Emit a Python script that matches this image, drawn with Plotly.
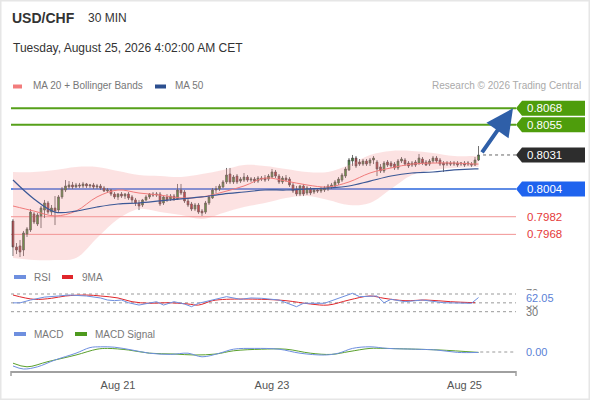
import plotly.graph_objects as go

# USD/CHF 30 min candles
OPEN = [0.79786, 0.79580, 0.79588, 0.79556, 0.79683, 0.79715, 0.79842, 0.79762, 0.79826, 0.79873,
        0.79929, 0.79857, 0.79889, 0.79873, 0.79977, 0.80032, 0.80056, 0.80072, 0.80056, 0.80072,
        0.80064, 0.80080, 0.80064, 0.80072, 0.80056, 0.80064, 0.80048, 0.80024, 0.80032, 0.80000,
        0.79977, 0.80000, 0.79984, 0.80000, 0.79977, 0.79953, 0.79929, 0.79913, 0.79953, 0.79977,
        0.80000, 0.79992, 0.80000, 0.79929, 0.79977, 0.79961, 0.79984, 0.79961, 0.80032, 0.80016,
        0.79945, 0.79921, 0.79881, 0.79913, 0.79865, 0.79857, 0.79929, 0.79969, 0.80032, 0.80040,
        0.80056, 0.80096, 0.80159, 0.80096, 0.80143, 0.80103, 0.80111, 0.80135, 0.80111, 0.80119,
        0.80103, 0.80127, 0.80127, 0.80119, 0.80135, 0.80175, 0.80143, 0.80096, 0.80127, 0.80119,
        0.80072, 0.80040, 0.80000, 0.80064, 0.80008, 0.80040, 0.80016, 0.80032, 0.80024, 0.80032,
        0.80040, 0.80056, 0.80064, 0.80088, 0.80111, 0.80143, 0.80191, 0.80262, 0.80286, 0.80254,
        0.80238, 0.80262, 0.80246, 0.80270, 0.80254, 0.80215, 0.80183, 0.80254, 0.80246, 0.80238,
        0.80207, 0.80262, 0.80270, 0.80246, 0.80230, 0.80254, 0.80246, 0.80278, 0.80254, 0.80238,
        0.80262, 0.80286, 0.80270, 0.80246, 0.80238, 0.80246, 0.80238, 0.80246, 0.80238, 0.80246,
        0.80238, 0.80238, 0.80230, 0.80270]
HIGH = [0.79802, 0.79611, 0.79635, 0.79707, 0.79738, 0.79881, 0.79857, 0.79850, 0.79905, 0.79953,
        0.79945, 0.79913, 0.79984, 0.79992, 0.80056, 0.80111, 0.80103, 0.80096, 0.80088, 0.80088,
        0.80096, 0.80088, 0.80080, 0.80088, 0.80080, 0.80080, 0.80064, 0.80048, 0.80040, 0.80016,
        0.80008, 0.80016, 0.80008, 0.80016, 0.79992, 0.79969, 0.79953, 0.79961, 0.79992, 0.80008,
        0.80016, 0.80016, 0.80016, 0.79984, 0.80000, 0.80000, 0.80000, 0.80080, 0.80080, 0.80032,
        0.79961, 0.79937, 0.79929, 0.79929, 0.79881, 0.79945, 0.79992, 0.80048, 0.80064, 0.80080,
        0.80111, 0.80207, 0.80207, 0.80151, 0.80159, 0.80135, 0.80167, 0.80151, 0.80135, 0.80135,
        0.80143, 0.80143, 0.80151, 0.80159, 0.80199, 0.80191, 0.80159, 0.80143, 0.80151, 0.80135,
        0.80088, 0.80064, 0.80072, 0.80080, 0.80064, 0.80056, 0.80048, 0.80048, 0.80056, 0.80064,
        0.80080, 0.80088, 0.80111, 0.80135, 0.80167, 0.80215, 0.80286, 0.80310, 0.80302, 0.80278,
        0.80278, 0.80278, 0.80286, 0.80302, 0.80270, 0.80238, 0.80262, 0.80270, 0.80262, 0.80254,
        0.80278, 0.80294, 0.80286, 0.80262, 0.80262, 0.80270, 0.80318, 0.80294, 0.80270, 0.80278,
        0.80302, 0.80302, 0.80286, 0.80262, 0.80262, 0.80262, 0.80262, 0.80262, 0.80254, 0.80262,
        0.80262, 0.80254, 0.80294, 0.80381]
LOW = [0.79508, 0.79524, 0.79500, 0.79508, 0.79659, 0.79699, 0.79762, 0.79746, 0.79730, 0.79810,
       0.79842, 0.79826, 0.79754, 0.79857, 0.79961, 0.80016, 0.80040, 0.80040, 0.80048, 0.80048,
       0.80048, 0.80048, 0.80048, 0.80040, 0.80040, 0.80032, 0.80016, 0.80008, 0.79984, 0.79961,
       0.79953, 0.79969, 0.79961, 0.79953, 0.79929, 0.79905, 0.79873, 0.79897, 0.79945, 0.79961,
       0.79977, 0.79977, 0.79905, 0.79913, 0.79937, 0.79945, 0.79945, 0.79953, 0.79992, 0.79929,
       0.79897, 0.79865, 0.79865, 0.79842, 0.79826, 0.79842, 0.79913, 0.79961, 0.80008, 0.80024,
       0.80048, 0.80080, 0.80080, 0.80080, 0.80080, 0.80088, 0.80096, 0.80096, 0.80096, 0.80088,
       0.80088, 0.80103, 0.80096, 0.80103, 0.80127, 0.80127, 0.80080, 0.80080, 0.80096, 0.80056,
       0.80008, 0.79984, 0.79984, 0.79984, 0.79992, 0.79992, 0.80000, 0.80008, 0.80008, 0.80016,
       0.80024, 0.80040, 0.80048, 0.80072, 0.80096, 0.80127, 0.80183, 0.80223, 0.80207, 0.80223,
       0.80223, 0.80223, 0.80223, 0.80238, 0.80143, 0.80167, 0.80167, 0.80215, 0.80207, 0.80191,
       0.80191, 0.80246, 0.80223, 0.80207, 0.80215, 0.80215, 0.80230, 0.80230, 0.80223, 0.80223,
       0.80246, 0.80246, 0.80223, 0.80175, 0.80223, 0.80223, 0.80223, 0.80215, 0.80223, 0.80215,
       0.80223, 0.80215, 0.80223, 0.80262]
CLOSE = [0.79580, 0.79556, 0.79540, 0.79691, 0.79723, 0.79857, 0.79778, 0.79834, 0.79889, 0.79929,
         0.79857, 0.79889, 0.79865, 0.79977, 0.80040, 0.80064, 0.80072, 0.80056, 0.80072, 0.80064,
         0.80080, 0.80064, 0.80072, 0.80056, 0.80064, 0.80048, 0.80024, 0.80032, 0.80000, 0.79977,
         0.80000, 0.79984, 0.80000, 0.79969, 0.79953, 0.79929, 0.79905, 0.79953, 0.79977, 0.80000,
         0.79992, 0.80000, 0.79921, 0.79977, 0.79953, 0.79984, 0.79961, 0.80032, 0.80008, 0.79945,
         0.79913, 0.79881, 0.79913, 0.79857, 0.79850, 0.79929, 0.79977, 0.80032, 0.80040, 0.80064,
         0.80096, 0.80151, 0.80096, 0.80135, 0.80096, 0.80119, 0.80135, 0.80111, 0.80119, 0.80103,
         0.80127, 0.80119, 0.80111, 0.80143, 0.80175, 0.80143, 0.80096, 0.80127, 0.80111, 0.80072,
         0.80024, 0.80000, 0.80064, 0.80000, 0.80048, 0.80008, 0.80032, 0.80024, 0.80040, 0.80048,
         0.80064, 0.80072, 0.80096, 0.80119, 0.80151, 0.80199, 0.80270, 0.80286, 0.80223, 0.80238,
         0.80262, 0.80238, 0.80270, 0.80286, 0.80199, 0.80183, 0.80246, 0.80230, 0.80223, 0.80207,
         0.80262, 0.80278, 0.80238, 0.80223, 0.80246, 0.80230, 0.80286, 0.80246, 0.80230, 0.80262,
         0.80286, 0.80262, 0.80238, 0.80230, 0.80246, 0.80238, 0.80246, 0.80230, 0.80246, 0.80230,
         0.80246, 0.80230, 0.80270, 0.80310]

# indicators, sampled at these candle numbers
IND_X = [0, 6, 12, 18, 24, 30, 36, 42, 48, 54, 60, 66, 72, 78, 84, 90, 96, 102, 108, 114, 120, 126, 132, 133]
MA20 = [0.79905, 0.79865, 0.79826, 0.79865, 0.79977, 0.80032, 0.80008, 0.79992, 0.79969, 0.79977, 0.80016, 0.80064,
        0.80127, 0.80103, 0.80072, 0.80056, 0.80096, 0.80167, 0.80207, 0.80238, 0.80246, 0.80246, 0.80238, 0.80238]
MA50 = [0.80111, 0.79961, 0.79857, 0.79865, 0.79897, 0.79921, 0.79929, 0.79945, 0.79961, 0.79977, 0.80000, 0.80016,
        0.80032, 0.80032, 0.80040, 0.80048, 0.80064, 0.80103, 0.80143, 0.80167, 0.80175, 0.80191, 0.80199, 0.80199]
BB_UP = [0.80175, 0.80175, 0.80191, 0.80215, 0.80215, 0.80183, 0.80151, 0.80143, 0.80135, 0.80159, 0.80191, 0.80230,
         0.80223, 0.80199, 0.80175, 0.80175, 0.80230, 0.80310, 0.80342, 0.80342, 0.80326, 0.80302, 0.80302, 0.80302]
BB_LOW = [0.79492, 0.79476, 0.79476, 0.79492, 0.79651, 0.79802, 0.79881, 0.79857, 0.79834, 0.79802, 0.79850, 0.79897,
          0.79929, 0.79969, 0.79984, 0.79953, 0.79913, 0.79929, 0.80040, 0.80151, 0.80191, 0.80207, 0.80215, 0.80215]

RSI_X = [0, 2, 5, 9, 13, 16, 21, 25, 27, 29, 31, 33, 36, 39, 41, 43, 46, 49, 51, 53, 57, 61, 65, 68, 71, 76,
         81, 83, 89, 93, 97, 99, 104, 106, 108, 112, 117, 123, 131, 133]
RSI = [50, 50, 56.4, 63, 65.5, 67.7, 65.5, 61, 56.4, 55, 56.4, 50.3, 45, 50.3, 52.6, 45, 52.6, 47.4, 41.3, 49,
       56.4, 64, 58, 61, 60.3, 56.4, 41.3, 49, 49, 60.3, 71.6, 64, 65.5, 50.3, 58, 52.6, 56.4, 50.3, 49, 62.05]
RSI_MA_X = [0, 6, 11, 15, 21, 25, 30, 34, 39, 44, 50, 53, 57, 61, 71, 78, 85, 90, 96, 102, 106, 112, 118, 125, 132]
RSI_MA = [67.7, 58, 60.3, 65.5, 67.7, 65.5, 61, 52.6, 49, 50.3, 47.4, 45, 54.9, 58, 58, 54.9, 47.4, 45, 56.4,
          65.5, 60.3, 54.9, 56.4, 52.6, 50.3]

MACD_X = [0, 3, 7, 12, 18, 22, 25, 29, 34, 39, 45, 50, 54, 59, 63, 69, 76, 82, 89, 93, 97, 102, 107, 115, 121,
          127, 133]
MACD = [-0.00035, -0.000425, -0.00037, -0.0002, -0.00003, 0.00011, 0.00013, 0.00012, 0.00005, -0.00003, -0.00006,
        -0.00003, -0.00012, -0.00003, 0.00007, 0.00009, 0.00007, -0.00003, -0.000075, -0.00003, 0.00009, 0.00013,
        0.00009, 0.00007, 0.00005, -0.00001, -0.00001]
SIG_X = [0, 4, 10, 18, 24, 27, 33, 39, 46, 52, 58, 63, 71, 78, 85, 91, 96, 102, 106, 115, 122, 133]
SIGNAL = [-0.00028, -0.00037, -0.00024, -0.000075, 0.00007, 0.00009, 0.00005, -0.00003, -0.00005, -0.000075,
          -0.00005, 0.00003, 0.00007, 0.00007, -0.00003, -0.00006, 0.00001, 0.00009, 0.00009, 0.00007, 0.00005,
          -0.00001]

RESIST = [0.8068, 0.8055]
SUPPORT = [0.7982, 0.7968]
PIVOT = 0.8004
LAST = 0.8031
RSI_LEVELS = [70, 50, 30]
TICK_POS = [30, 74, 129]
TICK_TEXT = ["Aug 21", "Aug 23", "Aug 25"]

W, H = 590, 400
FONT = "Liberation Sans, Arial, sans-serif"
N = len(CLOSE)
xs = list(range(N))


def px(x):
    return x / W


def py(y):
    return 1 - y / H


fig = go.Figure()

# bollinger band
fig.add_trace(go.Scatter(x=IND_X, y=BB_UP, mode="lines", line=dict(width=0, shape="spline"),
                         hoverinfo="skip", xaxis="x", yaxis="y"))
fig.add_trace(go.Scatter(x=IND_X, y=BB_LOW, mode="lines", line=dict(width=0, shape="spline"),
                         fill="tonexty", fillcolor="rgba(245,150,150,0.28)", hoverinfo="skip",
                         xaxis="x", yaxis="y"))
fig.add_trace(go.Scatter(x=IND_X, y=MA20, mode="lines", line=dict(color="#f07a7a", width=1, shape="spline"),
                         xaxis="x", yaxis="y"))
fig.add_trace(go.Scatter(x=IND_X, y=MA50, mode="lines", line=dict(color="#3b5896", width=1.2, shape="spline"),
                         xaxis="x", yaxis="y"))

fig.add_trace(go.Candlestick(
    x=xs, open=OPEN, high=HIGH, low=LOW, close=CLOSE,
    increasing=dict(fillcolor="#3c9a2c", line=dict(color="#4b4b4b", width=0.8)),
    decreasing=dict(fillcolor="#c9262c", line=dict(color="#4b4b4b", width=0.8)),
    whiskerwidth=0, xaxis="x", yaxis="y"))

# RSI
fig.add_trace(go.Scatter(x=RSI_MA_X, y=RSI_MA, mode="lines", line=dict(color="#e0262b", width=1, shape="spline"),
                         xaxis="x2", yaxis="y2"))
fig.add_trace(go.Scatter(x=RSI_X, y=RSI, mode="lines", line=dict(color="#6e8fdf", width=1),
                         xaxis="x2", yaxis="y2"))

# MACD
fig.add_trace(go.Scatter(x=SIG_X, y=SIGNAL, mode="lines", line=dict(color="#5aa02c", width=1, shape="spline"),
                         xaxis="x3", yaxis="y3"))
fig.add_trace(go.Scatter(x=MACD_X, y=MACD, mode="lines", line=dict(color="#6e8fdf", width=1, shape="spline"),
                         xaxis="x3", yaxis="y3"))

xdom = [px(11), px(516)]
xr = [(11 - 13) / 3.5, (516 - 13) / 3.5]
ppx = 12600.0  # pixels per price unit in the main panel
yr = [PIVOT - (262 - 189) / ppx, PIVOT + (189 - 95) / ppx]

hidden = dict(showgrid=False, zeroline=False, showticklabels=False, showline=False)
fig.update_layout(
    width=W, height=H, margin=dict(l=0, r=0, t=0, b=0),
    paper_bgcolor="white", plot_bgcolor="white", showlegend=False,
    font=dict(family=FONT, color="#555"),
    xaxis=dict(domain=xdom, range=xr, anchor="y", rangeslider=dict(visible=False), **hidden),
    xaxis2=dict(domain=xdom, range=xr, anchor="y2", matches="x", **hidden),
    xaxis3=dict(domain=xdom, range=xr, anchor="y3", matches="x", showgrid=False, zeroline=False,
                showline=True, linecolor="#a0a0a0", linewidth=1.5,
                tickmode="array", tickvals=TICK_POS, ticktext=TICK_TEXT,
                ticks="outside", ticklen=3, tickcolor="rgba(0,0,0,0)",
                tickfont=dict(size=11, color="#555")),
    yaxis=dict(domain=[py(262), py(95)], range=yr, anchor="x", **hidden),
    yaxis2=dict(domain=[py(318), py(286)], range=[30 - (318 - 311.7) / 0.4425, 70 + (294 - 286) / 0.4425],
                anchor="x2", **hidden),
    yaxis3=dict(domain=[py(371), py(340)], range=[-0.000475, 0.0003], anchor="x3", **hidden),
)

shapes = []
# outer frame
shapes.append(dict(type="rect", xref="paper", yref="paper", x0=0, x1=1, y0=0, y1=1,
                   line=dict(color="#e6e6e6", width=3)))
# level lines
for lv in RESIST:
    shapes.append(dict(type="line", xref="paper", yref="y", x0=px(11), x1=px(516), y0=lv, y1=lv,
                       line=dict(color="#56a01a", width=2), layer="below"))
shapes.append(dict(type="line", xref="paper", yref="y", x0=px(11), x1=px(516), y0=PIVOT, y1=PIVOT,
                   line=dict(color="#2a66dd", width=1.5), layer="below"))
for lv in SUPPORT:
    shapes.append(dict(type="line", xref="paper", yref="y", x0=px(11), x1=px(516), y0=lv, y1=lv,
                       line=dict(color="#f29494", width=1), layer="below"))
shapes.append(dict(type="line", xref="x", yref="y", x0=N + 0.3, x1=xr[1], y0=LAST, y1=LAST,
                   line=dict(color="#666", width=1, dash="dot")))
# RSI levels
for lv in RSI_LEVELS:
    shapes.append(dict(type="line", xref="paper", yref="y2", x0=px(11), x1=px(516), y0=lv, y1=lv,
                       line=dict(color="#999", width=1, dash="dot"), layer="below"))
shapes.append(dict(type="line", xref="x", yref="y3", x0=N - 0.5, x1=xr[1], y0=0, y1=0,
                   line=dict(color="#999", width=1, dash="dot")))
# axis end ticks
for xe in (11, 516):
    shapes.append(dict(type="line", xref="paper", yref="paper", x0=px(xe), x1=px(xe), y0=py(371), y1=py(376),
                       line=dict(color="#a0a0a0", width=1.5)))


# price tags
def tag(level, color):
    h = 7.5 / ppx
    path = "M {a},{m} L {b},{t} L {c},{t} L {c},{bo} L {b},{bo} Z".format(
        a=px(516), b=px(522), c=px(585), m=level, t=level + h, bo=level - h)
    shapes.append(dict(type="path", xref="paper", yref="y", path=path, fillcolor=color,
                       line=dict(width=0)))


tag(RESIST[0], "#4e9d0c")
tag(RESIST[1], "#4e9d0c")
tag(LAST, "#2d2d2d")
tag(PIVOT, "#1f63ee")

# legend swatches
for x0, x1, y0, y1, c in [(13, 22, 84.5, 88.5, "#f27c7c"), (155, 166, 84.5, 88.5, "#2c4f8f"),
                          (14, 26, 275, 279, "#6e8fdf"), (62, 73, 275, 279, "#e0262b"),
                          (14, 26, 332, 336, "#6e8fdf"), (75, 87, 332, 336, "#4e9a1e")]:
    shapes.append(dict(type="rect", xref="paper", yref="paper", x0=px(x0), x1=px(x1), y0=py(y1), y1=py(y0),
                       fillcolor=c, line=dict(width=0)))
fig.update_layout(shapes=shapes)


def txt(x, y, s, size, color, anchor="left", bg=None, pad=0):
    fig.add_annotation(x=px(x), y=py(y), xref="paper", yref="paper", text=s, showarrow=False,
                       xanchor=anchor, yanchor="middle", font=dict(size=size, color=color, family=FONT),
                       bgcolor=bg, borderpad=pad)


txt(11, 18, "<b>USD/CHF</b>", 14, "#333")
txt(87, 18, "30 MIN", 12, "#333")
txt(12, 48, "Tuesday, August 25, 2026 4:02:00 AM CET", 12, "#333")
txt(32, 86, "MA 20 + Bollinger Bands", 10, "#777")
txt(174, 86, "MA 50", 10, "#777")
txt(582, 86, "Research © 2026 Trading Central", 10, "#aaa", anchor="right")

for lv in RESIST + [LAST, PIVOT]:
    fig.add_annotation(x=px(525), y=lv, xref="paper", yref="y", text="%.4f" % lv, showarrow=False,
                       xanchor="left", yanchor="middle", font=dict(size=11.5, color="white", family=FONT))
for lv in SUPPORT:
    fig.add_annotation(x=px(525), y=lv, xref="paper", yref="y", text="%.4f" % lv, showarrow=False,
                       xanchor="left", yanchor="middle", font=dict(size=11.5, color="#e53a3a", family=FONT))

# arrow to target
fig.add_annotation(x=(513 - 13) / 3.5, y=RESIST[0], xref="x", yref="y",
                   ax=(481 - 13) / 3.5, ay=LAST + 0.00008, axref="x", ayref="y",
                   showarrow=True, arrowhead=2, arrowsize=1.35, arrowwidth=4, arrowcolor="#2f5fa8", text="")

# RSI / MACD labels
txt(33, 277, "RSI", 10, "#777")
txt(81, 277, "9MA", 10, "#777")
txt(33, 334, "MACD", 10, "#777")
txt(94, 334, "MACD Signal", 10, "#777")
txt(525, 293, "70", 11, "#777")
txt(525, 303.5, "50", 11, "#777")
txt(525, 312, "30", 11, "#777")
txt(524, 298, "%.2f" % RSI[-1], 11, "#5b7fd6", bg="white", pad=1)
txt(525, 352, "0.00", 11, "#5b7fd6")

fig.write_html("out.html", config={"displayModeBar": False},
               post_script="document.body.style.margin='0';")
